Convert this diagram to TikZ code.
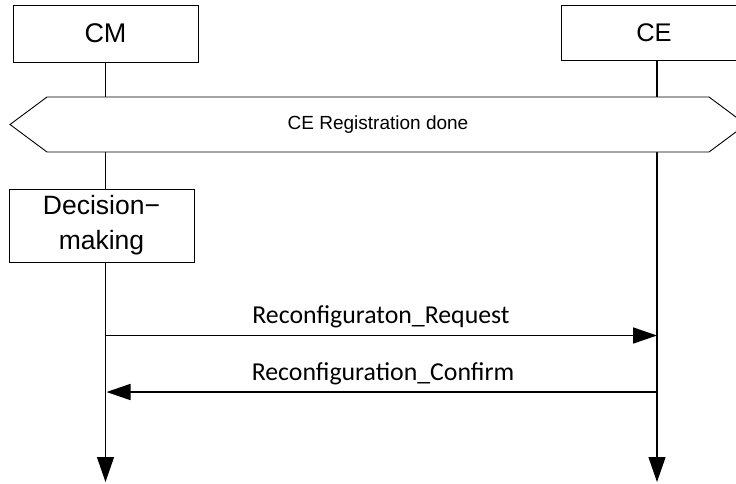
\documentclass[tikz,border=0pt]{standalone}
\usepackage{fontspec}
\setmainfont{Liberation Sans}
\newfontfamily\msgfont{Carlito}
\usetikzlibrary{arrows.meta}

\tikzset{
  entity/.style={draw, line width=0.9pt, fill=white, inner sep=0pt},
  lifeline/.style={line width=1.2pt, -{Triangle[length=25pt,width=17pt]}},
  message/.style={line width=1.6pt, -{Triangle[length=24pt,width=16pt]}},
  msglabel/.style={font=\msgfont\fontsize{25.8}{29}\selectfont, anchor=base, inner sep=0pt},
  frame/.style={draw, line width=0.9pt, fill=white},
}

\begin{document}
\begin{tikzpicture}[x=1pt, y=-1pt]
  \useasboundingbox (0,0) rectangle (736,483);
  \clip (0,0) rectangle (736,483);

  % instance heads
  \node[entity, minimum width=185pt, minimum height=57pt,
        font=\fontsize{27}{30}\selectfont] (cm) at (105.5,33.5) {CM};
  \node[entity, minimum width=192pt, minimum height=55pt] (ce) at (657,32.5) {};
  \node[font=\fontsize{25.5}{30}\selectfont] (celabel) at (654,32.5) {CE};

  % lifeline ends
  \coordinate (cmend) at (105.5,482);
  \coordinate (ceend) at (657,482);

  % lifelines
  \draw[lifeline] (cm.south) -- (cmend);
  \draw[lifeline] (ce.south) -- (ceend);

  % shared condition
  \coordinate (h1) at (47,97);
  \coordinate (h2) at (709,97);
  \coordinate (h3) at (746,124.5);
  \coordinate (h4) at (709,152);
  \coordinate (h5) at (47,152);
  \coordinate (h6) at (10,124.5);
  \draw[frame] (h1) -- (h2) -- (h3) -- (h4) -- (h5) -- (h6) -- cycle;
  \node[font=\fontsize{19}{22}\selectfont] (cond) at (378,125) {CE Registration done};

  % local action on CM
  \node[entity, minimum width=185pt, minimum height=73pt, align=center,
        font=\fontsize{26.5}{35}\selectfont] (dec) at (101.5,225.5)
        {Decision−\\making};

  % message anchor points on the lifelines
  \coordinate (reqA) at (105.5,335.5);
  \coordinate (reqB) at (657,335.5);
  \coordinate (cnfA) at (106.5,392);
  \coordinate (cnfB) at (657,392);

  \draw[message] (reqA) -- (reqB);
  \draw[message] (cnfB) -- (cnfA);

  \node[msglabel] (reqlbl) at (381,323) {Reconfiguraton\_Request};
  \node[msglabel] (cnflbl) at (383,380) {Reconfiguration\_Confirm};
\end{tikzpicture}
\end{document}
